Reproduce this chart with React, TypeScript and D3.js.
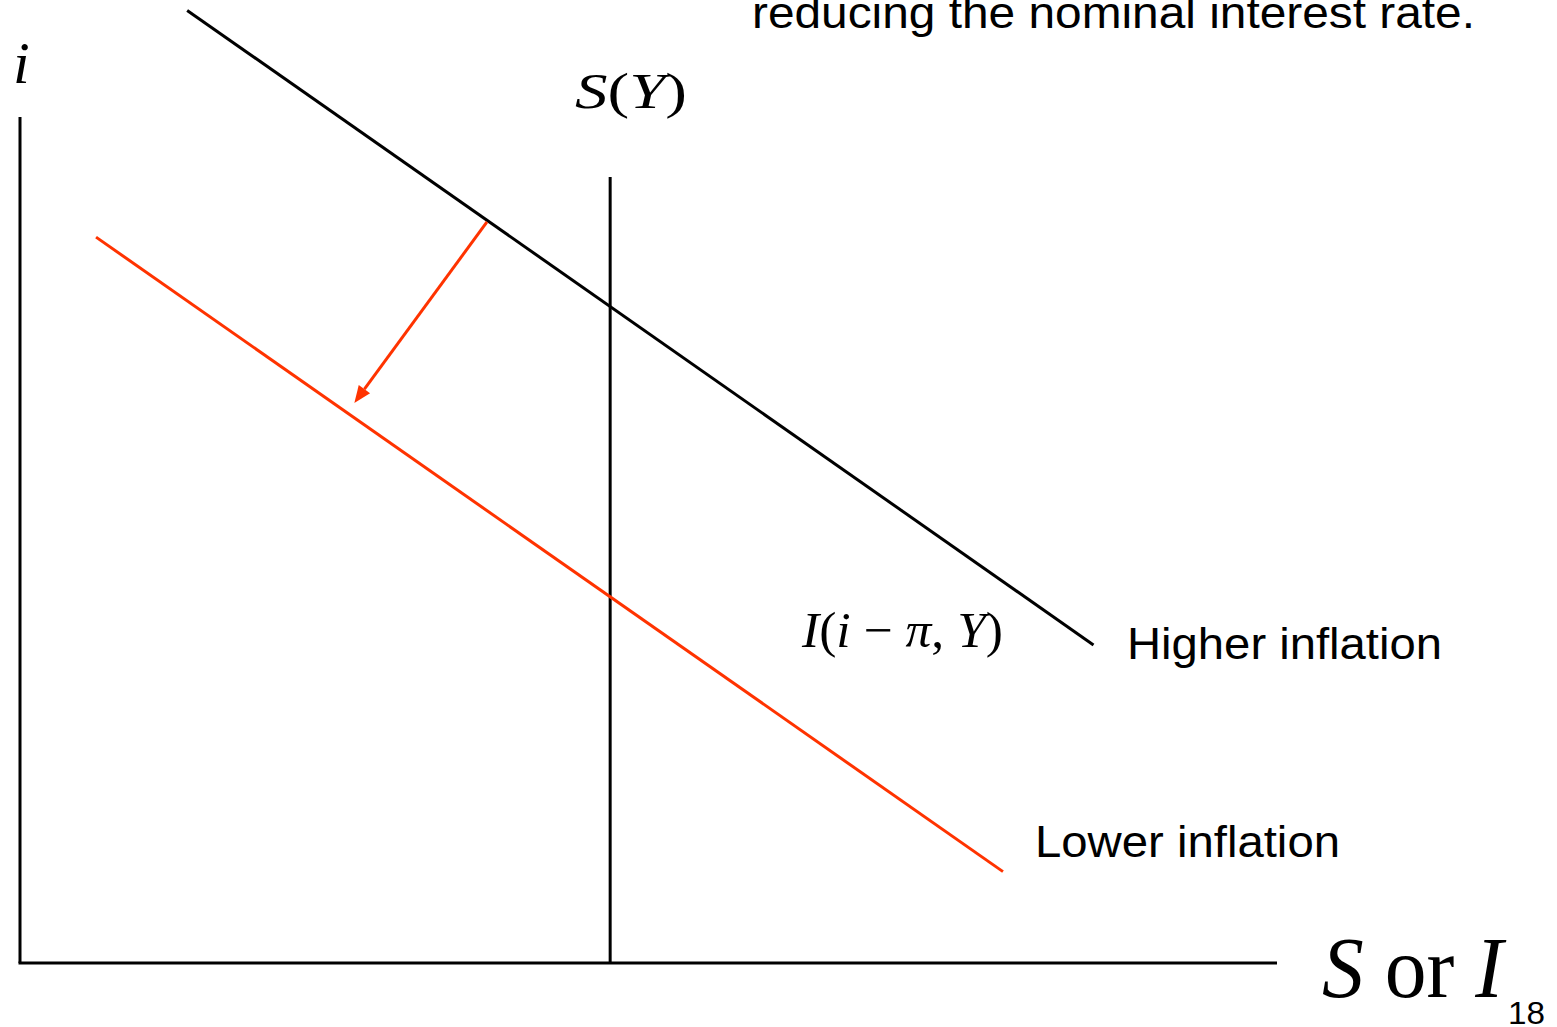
import React from "react";
import * as d3 from "d3";

// Diagram data in abstract model units (x: S or I, y: i), domain 0..100
const higherInflation: [number, number][] = [[13.3, 112.6], [85.4, 37.6]];
const lowerInflation: [number, number][] = [[6.05, 85.8], [78.2, 10.8]];
const savingX = 46.95;
const savingTop = 92.9;
const shiftArrow: [number, number][] = [[37.15, 87.6], [26.6, 66.2]];
const yAxisTop = 100;
const xAxisEnd = 100;

const W = 1557;
const H = 1027;
const RED = "#FF3300";

export default function App() {
  const x = d3.scaleLinear().domain([0, 100]).range([20, 1277]);
  const y = d3.scaleLinear().domain([0, 100]).range([963, 117]);
  const line = d3.line<[number, number]>().x((d) => x(d[0])).y((d) => y(d[1]));

  const [a0, a1] = shiftArrow;
  const ax0 = x(a0[0]), ay0 = y(a0[1]), ax1 = x(a1[0]), ay1 = y(a1[1]);
  const ang = Math.atan2(ay1 - ay0, ax1 - ax0);
  const headLen = 17, headW = 7;
  const bx = ax1 - headLen * Math.cos(ang), by = ay1 - headLen * Math.sin(ang);
  const px = -Math.sin(ang), py = Math.cos(ang);
  const head = `M${ax1},${ay1}L${bx + px * headW},${by + py * headW}L${bx - px * headW},${by - py * headW}Z`;

  const serif = "'Liberation Serif', 'Times New Roman', serif";
  const sans = "'Liberation Sans', Arial, sans-serif";

  return (
    <svg width={W} height={H} style={{ position: "absolute", left: 0, top: 0, background: "#fff" }}>
      {/* axes */}
      <line x1={x(0)} y1={y(0)} x2={x(0)} y2={y(yAxisTop)} stroke="#000" strokeWidth={3} />
      <line x1={x(0) - 1.5} y1={y(0)} x2={x(xAxisEnd)} y2={y(0)} stroke="#000" strokeWidth={3} />
      {/* saving */}
      <line x1={x(savingX)} y1={y(0)} x2={x(savingX)} y2={y(savingTop)} stroke="#000" strokeWidth={3} />
      {/* investment curves */}
      <path d={line(higherInflation) ?? ""} stroke="#000" strokeWidth={3} fill="none" />
      <path d={line(lowerInflation) ?? ""} stroke={RED} strokeWidth={3} fill="none" />
      {/* arrow */}
      <line x1={ax0} y1={ay0} x2={bx} y2={by} stroke={RED} strokeWidth={3} />
      <path d={head} fill={RED} />

      {/* texts */}
      <text x={752} y={28} fontFamily={sans} fontSize={44} textLength={723} lengthAdjust="spacingAndGlyphs">
        reducing the nominal interest rate.
      </text>
      <text x={13} y={83} fontFamily={serif} fontSize={60} fontStyle="italic">i</text>
      <text x={575} y={108} fontFamily={serif} fontSize={50} textLength={112} lengthAdjust="spacingAndGlyphs">
        <tspan fontStyle="italic">S</tspan>
        <tspan>(</tspan>
        <tspan fontStyle="italic">Y</tspan>
        <tspan>)</tspan>
      </text>
      <text x={802} y={647} fontFamily={serif} fontSize={50} textLength={201} lengthAdjust="spacingAndGlyphs">
        <tspan fontStyle="italic">I</tspan>
        <tspan>(</tspan>
        <tspan fontStyle="italic">i</tspan>
        <tspan> − </tspan>
        <tspan fontStyle="italic">π</tspan>
        <tspan>, </tspan>
        <tspan fontStyle="italic">Y</tspan>
        <tspan>)</tspan>
      </text>
      <text x={1127} y={659} fontFamily={sans} fontSize={44} textLength={315} lengthAdjust="spacingAndGlyphs">
        Higher inflation
      </text>
      <text x={1035} y={857} fontFamily={sans} fontSize={44} textLength={305} lengthAdjust="spacingAndGlyphs">
        Lower inflation
      </text>
      <text x={1322} y={997} fontFamily={serif} fontSize={86} textLength={181} lengthAdjust="spacingAndGlyphs">
        <tspan fontStyle="italic">S</tspan>
        <tspan> or </tspan>
        <tspan fontStyle="italic">I</tspan>
      </text>
      <text x={1508} y={1024} fontFamily={sans} fontSize={32} textLength={37} lengthAdjust="spacingAndGlyphs">18</text>
    </svg>
  );
}
